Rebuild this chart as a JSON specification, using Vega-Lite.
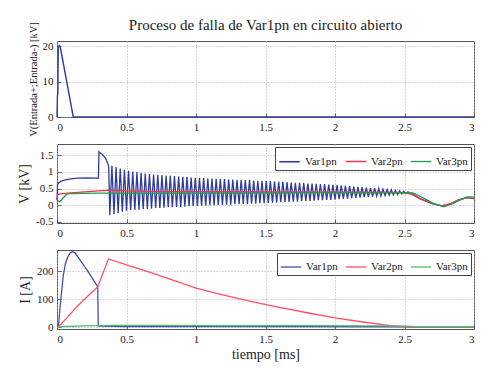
{
"$schema": "https://vega.github.io/schema/vega-lite/v6.json",
"background": "white",
"padding": {"left": 17, "top": 18, "right": 5, "bottom": 0},
"config": {
  "font": "Liberation Serif",
  "view": {"stroke": "#555", "strokeWidth": 1},
  "axis": {"grid": true, "gridDash": [1, 2], "gridColor": "#b0b0b0", "domain": false, "tickSize": -4, "tickColor": "#444", "tickWidth": 0.8, "labelFont": "Liberation Serif", "labelFontSize": 11, "labelColor": "#222", "labelPadding": 8, "titleFont": "Liberation Serif", "titleFontWeight": "normal", "titleFontSize": 14, "titleColor": "#222"},
  "legend": {"orient": "top-right", "direction": "horizontal", "symbolType": "stroke", "symbolStrokeWidth": 1.6, "symbolSize": 420, "labelFont": "Liberation Serif", "labelFontSize": 11, "labelColor": "#222", "strokeColor": "#444", "fillColor": "white", "padding": 3, "offset": 3, "columnPadding": 5, "symbolOffset": 0},
  "line": {"strokeWidth": 1.3}
},
"title": {"text": "Proceso de falla de Var1pn en circuito abierto", "font": "Liberation Serif", "fontSize": 15, "fontWeight": "normal", "color": "#222", "offset": -12, "anchor": "middle", "frame": "group"},
"spacing": 27,
"bounds": "flush",
"resolve": {"scale": {"color": "independent", "strokeWidth": "independent"}},
"datasets": {
"p1": [
{"t":0,"v":0,"s":"Var1pn"},{"t":0.003,"v":6,"s":"Var1pn"},{"t":0.006,"v":6.5,"s":"Var1pn"},{"t":0.009,"v":20,"s":"Var1pn"},{"t":0.018,"v":20.2,"s":"Var1pn"},{"t":0.026,"v":19.3,"s":"Var1pn"},{"t":0.117,"v":0,"s":"Var1pn"},{"t":3,"v":0,"s":"Var1pn"}
],
"p2": [
{"t":0,"v":0.15,"s":"Var1pn"},{"t":0.004,"v":0.62,"s":"Var1pn"},{"t":0.01,"v":0.66,"s":"Var1pn"},{"t":0.03,"v":0.72,"s":"Var1pn"},{"t":0.06,"v":0.76,"s":"Var1pn"},{"t":0.1,"v":0.79,"s":"Var1pn"},{"t":0.15,"v":0.81,"s":"Var1pn"},{"t":0.2,"v":0.82,"s":"Var1pn"},{"t":0.298,"v":0.81,"s":"Var1pn"},{"t":0.302,"v":1.6,"s":"Var1pn"},{"t":0.31,"v":1.57,"s":"Var1pn"},{"t":0.33,"v":1.5,"s":"Var1pn"},{"t":0.35,"v":1.4,"s":"Var1pn"},{"t":0.365,"v":1.25,"s":"Var1pn"},{"t":0.372,"v":1.15,"s":"Var1pn"},
{"t":0.38,"v":-0.30,"s":"Var1pn"},{"t":0.395,"v":1.18,"s":"Var1pn"},{"t":0.41,"v":-0.26,"s":"Var1pn"},{"t":0.425,"v":1.14,"s":"Var1pn"},{"t":0.44,"v":-0.23,"s":"Var1pn"},{"t":0.455,"v":1.10,"s":"Var1pn"},{"t":0.47,"v":-0.19,"s":"Var1pn"},{"t":0.485,"v":1.06,"s":"Var1pn"},{"t":0.5,"v":-0.16,"s":"Var1pn"},{"t":0.515,"v":1.03,"s":"Var1pn"},{"t":0.53,"v":-0.15,"s":"Var1pn"},{"t":0.545,"v":1.01,"s":"Var1pn"},{"t":0.56,"v":-0.14,"s":"Var1pn"},{"t":0.575,"v":0.99,"s":"Var1pn"},{"t":0.59,"v":-0.13,"s":"Var1pn"},{"t":0.605,"v":0.97,"s":"Var1pn"},{"t":0.62,"v":-0.12,"s":"Var1pn"},{"t":0.635,"v":0.95,"s":"Var1pn"},{"t":0.65,"v":-0.11,"s":"Var1pn"},{"t":0.665,"v":0.93,"s":"Var1pn"},{"t":0.68,"v":-0.10,"s":"Var1pn"},{"t":0.695,"v":0.92,"s":"Var1pn"},{"t":0.71,"v":-0.08,"s":"Var1pn"},{"t":0.725,"v":0.91,"s":"Var1pn"},{"t":0.74,"v":-0.08,"s":"Var1pn"},{"t":0.755,"v":0.90,"s":"Var1pn"},{"t":0.77,"v":-0.07,"s":"Var1pn"},{"t":0.785,"v":0.89,"s":"Var1pn"},{"t":0.8,"v":-0.06,"s":"Var1pn"},{"t":0.815,"v":0.88,"s":"Var1pn"},{"t":0.83,"v":-0.06,"s":"Var1pn"},{"t":0.845,"v":0.87,"s":"Var1pn"},{"t":0.86,"v":-0.05,"s":"Var1pn"},{"t":0.875,"v":0.86,"s":"Var1pn"},{"t":0.89,"v":-0.05,"s":"Var1pn"},{"t":0.905,"v":0.85,"s":"Var1pn"},{"t":0.92,"v":-0.04,"s":"Var1pn"},{"t":0.935,"v":0.84,"s":"Var1pn"},{"t":0.95,"v":-0.03,"s":"Var1pn"},{"t":0.965,"v":0.83,"s":"Var1pn"},{"t":0.98,"v":-0.02,"s":"Var1pn"},{"t":0.995,"v":0.82,"s":"Var1pn"},
{"t":1.01,"v":-0.02,"s":"Var1pn"},{"t":1.025,"v":0.81,"s":"Var1pn"},{"t":1.04,"v":-0.01,"s":"Var1pn"},{"t":1.055,"v":0.81,"s":"Var1pn"},{"t":1.07,"v":-0.01,"s":"Var1pn"},{"t":1.085,"v":0.80,"s":"Var1pn"},{"t":1.1,"v":0.00,"s":"Var1pn"},{"t":1.115,"v":0.80,"s":"Var1pn"},{"t":1.13,"v":0.00,"s":"Var1pn"},{"t":1.145,"v":0.79,"s":"Var1pn"},{"t":1.16,"v":0.01,"s":"Var1pn"},{"t":1.175,"v":0.79,"s":"Var1pn"},{"t":1.19,"v":0.01,"s":"Var1pn"},{"t":1.205,"v":0.78,"s":"Var1pn"},{"t":1.22,"v":0.02,"s":"Var1pn"},{"t":1.235,"v":0.77,"s":"Var1pn"},{"t":1.25,"v":0.02,"s":"Var1pn"},{"t":1.265,"v":0.77,"s":"Var1pn"},{"t":1.28,"v":0.03,"s":"Var1pn"},{"t":1.295,"v":0.76,"s":"Var1pn"},{"t":1.31,"v":0.03,"s":"Var1pn"},{"t":1.325,"v":0.76,"s":"Var1pn"},{"t":1.34,"v":0.04,"s":"Var1pn"},{"t":1.355,"v":0.75,"s":"Var1pn"},{"t":1.37,"v":0.04,"s":"Var1pn"},{"t":1.385,"v":0.75,"s":"Var1pn"},{"t":1.4,"v":0.05,"s":"Var1pn"},{"t":1.415,"v":0.74,"s":"Var1pn"},{"t":1.43,"v":0.05,"s":"Var1pn"},{"t":1.445,"v":0.73,"s":"Var1pn"},{"t":1.46,"v":0.06,"s":"Var1pn"},{"t":1.475,"v":0.73,"s":"Var1pn"},{"t":1.49,"v":0.06,"s":"Var1pn"},
{"t":1.505,"v":0.72,"s":"Var1pn"},{"t":1.52,"v":0.07,"s":"Var1pn"},{"t":1.535,"v":0.72,"s":"Var1pn"},{"t":1.55,"v":0.08,"s":"Var1pn"},{"t":1.565,"v":0.71,"s":"Var1pn"},{"t":1.58,"v":0.08,"s":"Var1pn"},{"t":1.595,"v":0.70,"s":"Var1pn"},{"t":1.61,"v":0.09,"s":"Var1pn"},{"t":1.625,"v":0.70,"s":"Var1pn"},{"t":1.64,"v":0.10,"s":"Var1pn"},{"t":1.655,"v":0.69,"s":"Var1pn"},{"t":1.67,"v":0.10,"s":"Var1pn"},{"t":1.685,"v":0.68,"s":"Var1pn"},{"t":1.7,"v":0.11,"s":"Var1pn"},{"t":1.715,"v":0.67,"s":"Var1pn"},{"t":1.73,"v":0.11,"s":"Var1pn"},{"t":1.745,"v":0.67,"s":"Var1pn"},{"t":1.76,"v":0.12,"s":"Var1pn"},{"t":1.775,"v":0.66,"s":"Var1pn"},{"t":1.79,"v":0.13,"s":"Var1pn"},{"t":1.805,"v":0.65,"s":"Var1pn"},{"t":1.82,"v":0.13,"s":"Var1pn"},{"t":1.835,"v":0.65,"s":"Var1pn"},{"t":1.85,"v":0.14,"s":"Var1pn"},{"t":1.865,"v":0.64,"s":"Var1pn"},{"t":1.88,"v":0.15,"s":"Var1pn"},{"t":1.895,"v":0.63,"s":"Var1pn"},{"t":1.91,"v":0.15,"s":"Var1pn"},{"t":1.925,"v":0.63,"s":"Var1pn"},{"t":1.94,"v":0.16,"s":"Var1pn"},{"t":1.955,"v":0.62,"s":"Var1pn"},{"t":1.97,"v":0.16,"s":"Var1pn"},{"t":1.985,"v":0.61,"s":"Var1pn"},
{"t":2.0,"v":0.17,"s":"Var1pn"},{"t":2.015,"v":0.60,"s":"Var1pn"},{"t":2.03,"v":0.18,"s":"Var1pn"},{"t":2.045,"v":0.59,"s":"Var1pn"},{"t":2.06,"v":0.19,"s":"Var1pn"},{"t":2.075,"v":0.58,"s":"Var1pn"},{"t":2.09,"v":0.20,"s":"Var1pn"},{"t":2.105,"v":0.57,"s":"Var1pn"},{"t":2.12,"v":0.21,"s":"Var1pn"},{"t":2.135,"v":0.56,"s":"Var1pn"},{"t":2.15,"v":0.22,"s":"Var1pn"},{"t":2.165,"v":0.55,"s":"Var1pn"},{"t":2.18,"v":0.23,"s":"Var1pn"},{"t":2.195,"v":0.54,"s":"Var1pn"},{"t":2.21,"v":0.24,"s":"Var1pn"},{"t":2.225,"v":0.53,"s":"Var1pn"},{"t":2.24,"v":0.25,"s":"Var1pn"},{"t":2.255,"v":0.52,"s":"Var1pn"},{"t":2.27,"v":0.26,"s":"Var1pn"},{"t":2.285,"v":0.51,"s":"Var1pn"},{"t":2.3,"v":0.27,"s":"Var1pn"},{"t":2.315,"v":0.50,"s":"Var1pn"},{"t":2.33,"v":0.28,"s":"Var1pn"},{"t":2.345,"v":0.48,"s":"Var1pn"},{"t":2.36,"v":0.29,"s":"Var1pn"},{"t":2.375,"v":0.47,"s":"Var1pn"},{"t":2.39,"v":0.30,"s":"Var1pn"},{"t":2.405,"v":0.46,"s":"Var1pn"},{"t":2.42,"v":0.31,"s":"Var1pn"},{"t":2.435,"v":0.44,"s":"Var1pn"},{"t":2.45,"v":0.32,"s":"Var1pn"},{"t":2.465,"v":0.43,"s":"Var1pn"},{"t":2.48,"v":0.34,"s":"Var1pn"},{"t":2.495,"v":0.42,"s":"Var1pn"},{"t":2.51,"v":0.35,"s":"Var1pn"},{"t":2.525,"v":0.40,"s":"Var1pn"},{"t":2.54,"v":0.36,"s":"Var1pn"},
{"t":2.56,"v":0.33,"s":"Var1pn"},{"t":2.61,"v":0.2,"s":"Var1pn"},{"t":2.7,"v":0.05,"s":"Var1pn"},{"t":2.77,"v":-0.02,"s":"Var1pn"},{"t":2.83,"v":0.04,"s":"Var1pn"},{"t":2.89,"v":0.16,"s":"Var1pn"},{"t":2.95,"v":0.23,"s":"Var1pn"},{"t":3.0,"v":0.2,"s":"Var1pn"},
{"t":0,"v":0.15,"s":"Var2pn"},{"t":0.005,"v":0.32,"s":"Var2pn"},{"t":0.02,"v":0.34,"s":"Var2pn"},{"t":0.1,"v":0.37,"s":"Var2pn"},{"t":0.2,"v":0.40,"s":"Var2pn"},{"t":0.3,"v":0.43,"s":"Var2pn"},{"t":0.38,"v":0.45,"s":"Var2pn"},{"t":0.5,"v":0.43,"s":"Var2pn"},{"t":0.8,"v":0.41,"s":"Var2pn"},{"t":1.5,"v":0.40,"s":"Var2pn"},{"t":2.0,"v":0.395,"s":"Var2pn"},{"t":2.4,"v":0.385,"s":"Var2pn"},{"t":2.5,"v":0.37,"s":"Var2pn"},{"t":2.55,"v":0.33,"s":"Var2pn"},{"t":2.61,"v":0.2,"s":"Var2pn"},{"t":2.7,"v":0.05,"s":"Var2pn"},{"t":2.77,"v":-0.02,"s":"Var2pn"},{"t":2.83,"v":0.04,"s":"Var2pn"},{"t":2.89,"v":0.16,"s":"Var2pn"},{"t":2.95,"v":0.23,"s":"Var2pn"},{"t":3.0,"v":0.2,"s":"Var2pn"},
{"t":0,"v":0.12,"s":"Var3pn"},{"t":0.02,"v":0.11,"s":"Var3pn"},{"t":0.04,"v":0.2,"s":"Var3pn"},{"t":0.07,"v":0.33,"s":"Var3pn"},{"t":0.1,"v":0.35,"s":"Var3pn"},{"t":0.3,"v":0.36,"s":"Var3pn"},{"t":0.5,"v":0.36,"s":"Var3pn"},{"t":1.0,"v":0.365,"s":"Var3pn"},{"t":2.0,"v":0.37,"s":"Var3pn"},{"t":2.4,"v":0.37,"s":"Var3pn"},{"t":2.5,"v":0.38,"s":"Var3pn"},{"t":2.56,"v":0.37,"s":"Var3pn"},{"t":2.62,"v":0.25,"s":"Var3pn"},{"t":2.7,"v":0.07,"s":"Var3pn"},{"t":2.78,"v":-0.05,"s":"Var3pn"},{"t":2.84,"v":0.03,"s":"Var3pn"},{"t":2.9,"v":0.16,"s":"Var3pn"},{"t":2.95,"v":0.25,"s":"Var3pn"},{"t":3.0,"v":0.24,"s":"Var3pn"}
],
"p3": [
{"t":0,"v":0,"s":"Var1pn"},{"t":0.01,"v":2,"s":"Var1pn"},{"t":0.02,"v":60,"s":"Var1pn"},{"t":0.045,"v":183,"s":"Var1pn"},{"t":0.06,"v":225,"s":"Var1pn"},{"t":0.077,"v":250,"s":"Var1pn"},{"t":0.095,"v":264,"s":"Var1pn"},{"t":0.11,"v":269,"s":"Var1pn"},{"t":0.13,"v":265,"s":"Var1pn"},{"t":0.178,"v":231,"s":"Var1pn"},{"t":0.24,"v":185,"s":"Var1pn"},{"t":0.293,"v":143,"s":"Var1pn"},{"t":0.297,"v":3,"s":"Var1pn"},{"t":0.5,"v":2,"s":"Var1pn"},{"t":1.5,"v":2,"s":"Var1pn"},{"t":2.5,"v":1,"s":"Var1pn"},{"t":2.6,"v":-1,"s":"Var1pn"},{"t":3.0,"v":-1,"s":"Var1pn"},
{"t":0,"v":0,"s":"Var2pn"},{"t":0.01,"v":0,"s":"Var2pn"},{"t":0.08,"v":38,"s":"Var2pn"},{"t":0.15,"v":76,"s":"Var2pn"},{"t":0.22,"v":110,"s":"Var2pn"},{"t":0.293,"v":143,"s":"Var2pn"},{"t":0.37,"v":243,"s":"Var2pn"},{"t":0.5,"v":222,"s":"Var2pn"},{"t":0.67,"v":195,"s":"Var2pn"},{"t":0.85,"v":165,"s":"Var2pn"},{"t":1.0,"v":139,"s":"Var2pn"},{"t":1.2,"v":114,"s":"Var2pn"},{"t":1.4,"v":91,"s":"Var2pn"},{"t":1.6,"v":70,"s":"Var2pn"},{"t":1.8,"v":51,"s":"Var2pn"},{"t":2.0,"v":33,"s":"Var2pn"},{"t":2.2,"v":18,"s":"Var2pn"},{"t":2.4,"v":5,"s":"Var2pn"},{"t":2.5,"v":1,"s":"Var2pn"},{"t":2.55,"v":0,"s":"Var2pn"},{"t":3.0,"v":0,"s":"Var2pn"},
{"t":0,"v":0,"s":"Var3pn"},{"t":0.05,"v":2,"s":"Var3pn"},{"t":0.2,"v":4,"s":"Var3pn"},{"t":0.4,"v":6,"s":"Var3pn"},{"t":0.8,"v":6,"s":"Var3pn"},{"t":1.2,"v":5,"s":"Var3pn"},{"t":1.8,"v":5,"s":"Var3pn"},{"t":2.3,"v":4,"s":"Var3pn"},{"t":2.5,"v":3,"s":"Var3pn"},{"t":2.6,"v":1,"s":"Var3pn"},{"t":3.0,"v":1,"s":"Var3pn"}
]
},
"vconcat": [
{
  "width": 417, "height": 76,
  "data": {"name": "p1"},
  "mark": {"type": "line", "strokeWidth": 1.4},
  "encoding": {
    "x": {"field": "t", "type": "quantitative", "scale": {"domain": [0, 3], "nice": false}, "axis": {"values": [0, 0.5, 1, 1.5, 2, 2.5, 3], "labelExpr": "'' + datum.value", "labelFont": "Liberation Serif", "title": null}},
    "y": {"field": "v", "type": "quantitative", "scale": {"domain": [0, 21.5], "nice": false}, "axis": {"values": [0, 10, 20], "labelExpr": "'' + datum.value", "labelFont": "Liberation Serif", "title": "V(Entrada+;Entrada-) [kV]", "titleFontSize": 10.5}},
    "color": {"field": "s", "type": "nominal", "scale": {"domain": ["Var1pn"], "range": ["#2f3c9c"]}, "legend": null}
  }
},
{
  "width": 417, "height": 79,
  "data": {"name": "p2"},
  "mark": {"type": "line"},
  "encoding": {
    "x": {"field": "t", "type": "quantitative", "scale": {"domain": [0, 3], "nice": false}, "axis": {"values": [0, 0.5, 1, 1.5, 2, 2.5, 3], "labelExpr": "'' + datum.value", "labelFont": "Liberation Serif", "title": null}},
    "y": {"field": "v", "type": "quantitative", "scale": {"domain": [-0.53, 1.83], "nice": false, "zero": false}, "axis": {"values": [-0.5, 0, 0.5, 1, 1.5], "labelExpr": "'' + datum.value", "labelFont": "Liberation Serif", "title": "V [kV]"}},
    "color": {"field": "s", "type": "nominal", "scale": {"domain": ["Var1pn", "Var2pn", "Var3pn"], "range": ["#2f3c9c", "#f4314b", "#1f9e4a"]}, "legend": {"title": null, "labelFont": "Liberation Serif"}},
    "strokeWidth": {"field": "s", "type": "nominal", "scale": {"domain": ["Var1pn", "Var2pn", "Var3pn"], "range": [1.6, 1.3, 1.3]}, "legend": null}
  }
},
{
  "width": 417, "height": 79,
  "data": {"name": "p3"},
  "mark": {"type": "line", "strokeWidth": 1.3},
  "encoding": {
    "x": {"field": "t", "type": "quantitative", "scale": {"domain": [0, 3], "nice": false}, "axis": {"values": [0, 0.5, 1, 1.5, 2, 2.5, 3], "labelExpr": "'' + datum.value", "labelFont": "Liberation Serif", "title": "tiempo [ms]", "titlePadding": 3}},
    "y": {"field": "v", "type": "quantitative", "scale": {"domain": [-7, 275], "nice": false, "zero": false}, "axis": {"values": [0, 100, 200], "labelExpr": "'' + datum.value", "labelFont": "Liberation Serif", "title": "I [A]"}},
    "color": {"field": "s", "type": "nominal", "scale": {"domain": ["Var1pn", "Var2pn", "Var3pn"], "range": ["#4350ad", "#ff5068", "#4cbf70"]}, "legend": {"title": null, "labelFont": "Liberation Serif"}}
  }
}
]
}
